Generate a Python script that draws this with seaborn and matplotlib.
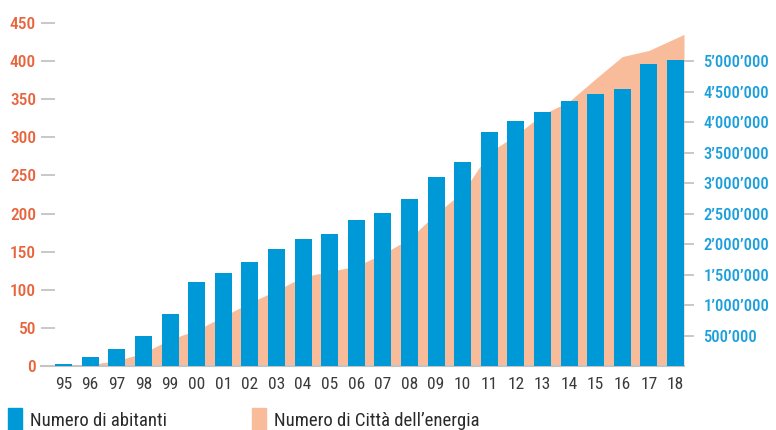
import numpy as np
import pandas as pd
import seaborn as sns
import matplotlib.pyplot as plt
from matplotlib.patches import Patch

# colori
blu = "#0099D8"
salmone = "#F9BC9A"
arancio = "#E8643C"
grigio = "#C4C4C4"
testo = "#3A3A3A"

# dati
anni = ["95", "96", "97", "98", "99", "00", "01", "02", "03", "04", "05", "06",
        "07", "08", "09", "10", "11", "12", "13", "14", "15", "16", "17", "18"]
abitanti = [35000, 150000, 285000, 500000, 850000, 1380000, 1530000, 1710000,
            1920000, 2080000, 2165000, 2395000, 2515000, 2745000, 3105000, 3345000,
            3840000, 4020000, 4165000, 4350000, 4460000, 4545000, 4960000, 5020000]
citta = [0, 2, 7, 17, 35, 47, 65, 83, 99, 117, 124, 131,
         147, 167, 200, 228, 280, 303, 330, 347, 377, 406, 414, 430]

ticks_sx = list(range(0, 451, 50))
ticks_dx = list(range(500000, 5000001, 500000))
scala = 12500  # abitanti per unita' dell'asse sinistro

df = pd.DataFrame({"anno": anni, "abitanti": abitanti, "citta": citta})

sns.set_style("white")
plt.rcParams["font.family"] = ["Roboto Condensed", "Roboto", "DejaVu Sans"]

fig = plt.figure(figsize=(7.76, 4.30), dpi=100)
ax = fig.add_axes([41 / 776, 64 / 430, 643 / 776, 350.6 / 430])
ax2 = ax.twinx()

larg = 0.64
n = len(anni)

# area citta' dell'energia (asse sinistro)
x_area = list(range(n)) + [n - 1 + larg / 2]
y_area = citta + [citta[-1] + (citta[-1] - citta[-2]) * larg / 2]
ax.fill_between(x_area, 0, y_area, color=salmone, linewidth=0)

# barre abitanti (asse destro)
sns.barplot(data=df, x="anno", y="abitanti", ax=ax2, color=blu, saturation=1,
            width=larg, linewidth=0, errorbar=None, order=anni)

ax.set_xlim(-0.85, n - 1 + larg / 2)
ax.set_ylim(0, 460)
ax2.set_ylim(0, 460 * scala)

ax.set_xticks(range(n))
ax.set_xticklabels(anni)
ax.set_yticks(ticks_sx)
ax.set_yticklabels([str(t) for t in ticks_sx], fontweight="medium")
ax2.set_yticks(ticks_dx)
ax2.set_yticklabels([f"{t:,}".replace(",", "\u2019") for t in ticks_dx],
                    fontweight="medium")
ax.set_xlabel("")
ax2.set_xlabel("")
ax.set_ylabel("")
ax2.set_ylabel("")

ax.tick_params(axis="x", length=0, pad=8, labelcolor=testo, labelsize=12.5)
ax.tick_params(axis="y", direction="in", length=10, width=1.3, color=grigio,
               labelcolor=arancio, labelsize=12.5, pad=3.5)
ax2.tick_params(axis="y", direction="out", length=7, width=1.3, color=grigio,
                labelcolor="#1A9FDB", labelsize=12, pad=7)

for s in ["left", "right", "top"]:
    ax.spines[s].set_visible(False)
ax.spines["bottom"].set_color(grigio)
ax.spines["bottom"].set_linewidth(1.5)
for s in ax2.spines.values():
    s.set_visible(False)
ax.grid(False)
ax2.grid(False)

# legende
for x0, col, lab in [(8, blu, "Numero di abitanti"),
                     (252, salmone, "Numero di Citt\u00e0 dell\u2019energia")]:
    fig.legend(handles=[Patch(color=col)], labels=[lab], loc="upper left",
               bbox_to_anchor=(x0 / 776, 1 - 408 / 430), frameon=False,
               borderpad=0, borderaxespad=0, handlelength=0.75, handleheight=1.6,
               handletextpad=0.42, fontsize=13.5, labelcolor="#2A2A2A")

fig.savefig("out.png", dpi=100)
